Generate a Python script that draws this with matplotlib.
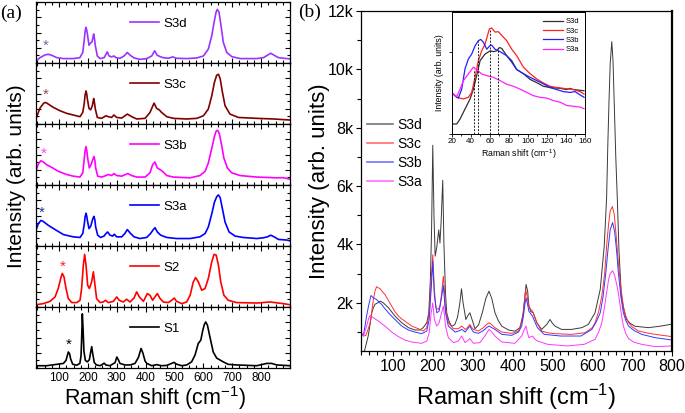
import matplotlib
matplotlib.use("Agg")
import matplotlib.pyplot as plt
from matplotlib.ticker import MultipleLocator, FixedLocator, NullFormatter

plt.rcParams['font.family'] = ['Liberation Sans', 'DejaVu Sans']
plt.rcParams['mathtext.fontset'] = 'custom'
plt.rcParams['mathtext.rm'] = 'Liberation Sans'
plt.rcParams['mathtext.it'] = 'Liberation Sans:italic'
plt.rcParams['mathtext.bf'] = 'Liberation Sans:bold'

# ---------------- panel (a) data (normalised units, each panel 0..4) -------------
names_a = ['S3d', 'S3c', 'S3b', 'S3a', 'S2', 'S1']
colors_a = ['#9933ff', '#800000', '#ff00ff', '#0000ff', '#ff0000', '#000000']
star_colors = ['#8060b0', '#a04848', '#ff40ff', '#203080', '#ff2020', '#000000']

s3d_a_x = [20, 34, 51, 63, 74, 92, 115, 149, 172, 182, 187.5, 190, 193, 196, 198, 203.6, 209, 214, 217, 219.8, 222.5, 225.6, 232.5, 242, 256, 262.5, 267, 273, 282, 290, 297, 311, 325, 336.5, 346, 360, 380, 403.5, 421, 431, 440, 452, 461, 478.5, 493.5, 507, 542, 577, 600, 617, 629, 637, 644, 648, 654, 661, 669, 681, 698, 727, 785, 808, 822, 833, 845, 860, 889, 900]
s3d_a_y = [0.13, 0.35, 0.53, 0.57, 0.51, 0.35, 0.29, 0.29, 0.35, 0.69, 1.57, 2.05, 2.34, 2.15, 1.90, 1.17, 1.30, 1.39, 1.65, 1.90, 1.60, 1.13, 0.46, 0.29, 0.35, 0.57, 0.73, 0.46, 0.40, 0.46, 0.35, 0.31, 0.46, 0.69, 0.51, 0.33, 0.24, 0.29, 0.46, 0.80, 0.51, 0.40, 0.35, 0.31, 0.40, 0.31, 0.29, 0.33, 0.46, 0.91, 1.79, 2.67, 3.34, 3.51, 3.34, 2.45, 1.35, 0.69, 0.42, 0.29, 0.29, 0.35, 0.51, 0.64, 0.51, 0.35, 0.29, 0.27]

s3c_a_x = [20, 28, 34, 40, 46, 51, 57, 63, 80, 103, 126, 149, 172.5, 182, 187.5, 190, 193.3, 196, 198, 203.6, 209.4, 215.2, 219.8, 222.5, 225.6, 232.5, 247.5, 262.5, 270.6, 282, 290, 299.5, 317, 336.5, 351.5, 369, 398, 415, 429, 438, 447, 455, 473, 496, 542, 577, 600, 617, 629, 638, 646, 652, 658, 666, 675, 692, 721, 785, 842, 900]
s3c_a_y = [0.33, 0.76, 1.05, 1.20, 1.35, 1.41, 1.38, 1.30, 1.09, 0.87, 0.70, 0.59, 0.48, 0.76, 1.41, 1.90, 2.17, 1.95, 1.63, 1.02, 0.93, 1.20, 1.67, 1.40, 0.98, 0.43, 0.37, 0.54, 0.48, 0.43, 0.59, 0.43, 0.39, 0.65, 0.48, 0.33, 0.37, 0.76, 1.37, 1.02, 0.93, 0.76, 0.48, 0.37, 0.33, 0.37, 0.54, 0.98, 1.85, 2.72, 3.20, 3.26, 2.98, 2.07, 1.20, 0.65, 0.43, 0.37, 0.33, 0.26]

s3b_a_x = [20, 28, 37, 45, 57, 74, 97, 126, 149, 172.5, 182, 187.5, 190, 193.3, 196, 199, 204.8, 210.6, 216.3, 221, 224, 226.7, 233.7, 247.5, 262.5, 270.6, 282, 290, 299.5, 317, 337.6, 351.5, 369, 398, 415, 424, 432, 440, 450, 458, 473, 496, 554, 588, 606, 617, 629, 638, 644, 649.5, 655, 663, 671, 683, 698, 727, 785, 854, 875, 889, 900]
s3b_a_y = [0.90, 1.38, 1.59, 1.51, 1.33, 1.16, 0.90, 0.69, 0.58, 0.52, 0.80, 1.76, 2.25, 2.52, 2.25, 1.76, 1.12, 1.33, 1.65, 1.87, 1.60, 1.12, 0.58, 0.52, 0.62, 0.69, 0.62, 0.75, 0.62, 0.58, 0.75, 0.62, 0.52, 0.52, 0.80, 1.33, 1.51, 1.12, 1.01, 0.90, 0.62, 0.52, 0.47, 0.62, 0.90, 1.44, 2.41, 3.16, 3.53, 3.59, 3.38, 2.62, 1.76, 1.12, 0.80, 0.62, 0.52, 0.47, 0.48, 0.43, 0.37]

s3a_a_x = [20, 28, 37, 45, 63, 86, 115, 149, 172.5, 182, 187.5, 190, 193.3, 196, 198, 203.6, 209.4, 215.2, 218, 221, 224, 226.7, 233.7, 244, 255.6, 262.5, 268.3, 276.4, 285.7, 291.4, 299.5, 317, 328, 336.5, 345.7, 359.6, 380, 403.5, 417, 426.6, 432.3, 440.4, 452, 473, 507, 554, 588, 606, 617, 629, 638, 646, 652, 658, 666, 675, 689, 710, 738, 785, 808, 822, 833, 845, 860, 889, 900]
s3a_a_y = [1.03, 1.46, 1.68, 1.61, 1.35, 1.08, 0.75, 0.60, 0.56, 0.82, 1.46, 1.90, 2.15, 1.95, 1.68, 1.14, 1.29, 1.68, 1.85, 1.94, 1.70, 1.25, 0.71, 0.56, 0.65, 0.82, 0.92, 0.71, 0.65, 0.77, 0.60, 0.60, 0.82, 1.08, 0.86, 0.60, 0.49, 0.56, 0.82, 1.08, 1.20, 0.92, 0.71, 0.56, 0.49, 0.49, 0.60, 0.82, 1.25, 2.11, 2.86, 3.23, 3.35, 3.18, 2.43, 1.57, 0.92, 0.65, 0.56, 0.49, 0.54, 0.60, 0.71, 0.60, 0.43, 0.39, 0.34]

s2_a_x = [20, 45, 68.5, 86, 97, 105.5, 111, 117, 124, 132, 144, 161, 172.5, 178, 184, 188.6, 193.3, 199, 204.8, 212.9, 218.7, 224.4, 230, 242, 253, 261, 270.6, 288, 299.5, 308.7, 322.6, 334, 345.7, 359.6, 368.8, 378, 392, 405.8, 415, 424, 432, 440.4, 450, 461, 478.5, 490, 499, 507, 525, 542, 554, 565, 573, 582.5, 594, 605.6, 617, 629, 637, 644, 652, 660, 671, 686, 715, 785, 831, 877, 900]
s2_a_y = [0.15, 0.22, 0.37, 0.66, 1.21, 1.87, 2.20, 1.98, 1.21, 0.55, 0.29, 0.29, 0.44, 1.21, 2.75, 3.45, 2.75, 1.43, 1.21, 1.65, 2.31, 1.43, 0.55, 0.29, 0.33, 0.44, 0.29, 0.37, 0.66, 0.44, 0.33, 0.51, 0.33, 0.59, 0.99, 0.66, 0.37, 0.88, 0.77, 0.44, 0.66, 0.88, 0.55, 0.33, 0.29, 0.44, 0.59, 0.37, 0.22, 0.33, 0.77, 1.65, 1.93, 1.65, 1.10, 1.21, 1.87, 2.97, 3.45, 3.41, 2.75, 1.65, 0.77, 0.44, 0.29, 0.26, 0.33, 0.22, 0.15]

s1_a_x = [20, 57, 92, 115, 124, 129, 132, 136, 140, 147, 161, 172, 176, 178, 180.5, 183, 186, 191, 198, 205, 209, 213, 216, 222, 230, 242, 251, 256, 262, 276, 294, 300, 305, 311, 328, 346, 363, 375, 384, 390, 398, 404, 421, 438, 455, 473, 490, 498, 507, 525, 542, 559, 571, 582, 591, 597, 603, 608, 614, 623, 634, 646, 658, 669, 686, 715, 785, 819, 837, 854, 900]
s1_a_y = [0.15, 0.15, 0.24, 0.30, 0.50, 0.85, 1.05, 0.95, 0.60, 0.25, 0.18, 0.30, 0.80, 1.80, 3.55, 2.60, 1.10, 0.50, 0.40, 0.55, 1.00, 1.40, 1.00, 0.35, 0.20, 0.15, 0.25, 0.32, 0.20, 0.15, 0.35, 0.72, 0.55, 0.30, 0.20, 0.20, 0.30, 0.70, 1.28, 1.00, 0.45, 0.30, 0.15, 0.22, 0.15, 0.17, 0.30, 0.37, 0.25, 0.15, 0.20, 0.40, 0.85, 1.60, 1.83, 2.40, 2.85, 3.02, 2.80, 2.00, 1.05, 0.65, 0.52, 0.40, 0.24, 0.20, 0.15, 0.30, 0.30, 0.20, 0.15]

spectra_a_x = [s3d_a_x, s3c_a_x, s3b_a_x, s3a_a_x, s2_a_x, s1_a_x]
spectra_a_y = [s3d_a_y, s3c_a_y, s3b_a_y, s3a_a_y, s2_a_y, s1_a_y]
star_x = [54.6, 54.6, 45.4, 39.6, 111.2, 132.0]
star_y = [1.13, 1.89, 2.02, 2.15, 2.64, 1.50]
xticks_a = [100, 200, 300, 400, 500, 600, 700, 800]

# ---------------- panel (b) data (counts) ----------------
names_b = ['S3d', 'S3c', 'S3b', 'S3a']
colors_b = ['#3a3a3a', '#ff3030', '#3535ff', '#ff35ff']

s3d_b_x = [20, 26, 30, 34, 38, 42, 47, 51, 55, 62, 68, 76, 89, 105, 122, 139, 155, 168, 176, 185, 190, 194, 197, 200, 203, 206, 210, 215, 218, 221, 225, 228, 232, 235, 240, 247, 255, 262, 268, 272, 276, 283, 288, 293, 298, 306, 315, 325, 333, 341, 348, 356, 364, 373, 390, 406, 419, 427, 431, 434, 438, 441, 446, 452, 456, 461, 473, 486, 494, 500, 507, 523, 548, 574, 590, 607, 620, 630, 636, 639, 642, 645, 649, 652, 655, 659, 663, 667, 673, 680, 686, 695, 707, 720, 741, 770, 800]
s3d_b_y = [250, 250, 420, 640, 860, 1200, 1660, 1830, 1950, 2000, 2060, 2000, 1830, 1550, 1320, 1150, 1070, 1070, 1150, 1320, 1660, 2800, 4500, 7400, 5000, 3600, 3900, 4500, 4050, 4800, 6200, 4000, 2300, 1660, 1400, 1200, 1250, 1500, 2000, 2480, 2000, 1430, 1560, 1660, 1450, 1110, 1250, 1700, 2150, 2400, 2150, 1660, 1400, 1200, 1070, 1030, 1150, 1660, 2200, 2630, 2400, 1890, 1700, 1660, 1500, 1320, 1090, 1260, 1430, 1300, 1200, 1090, 1090, 1150, 1260, 1660, 2460, 3940, 5600, 7400, 8900, 10200, 10950, 10300, 8900, 7000, 5500, 3800, 2230, 1700, 1430, 1300, 1200, 1180, 1150, 1200, 1270]

s3c_b_x = [20, 26, 32, 38, 43, 47, 51, 55, 59, 63, 68, 74, 80, 88, 97, 105, 114, 122, 130, 147, 164, 176, 185, 191, 196, 200, 204, 208, 214, 218, 222, 226.5, 230, 232, 239, 252, 264, 268, 272.5, 277, 281, 287, 293, 298, 302, 314, 327, 334, 341, 348, 356, 373, 398, 415, 425, 430, 433, 437, 440, 445, 450, 455, 461, 473, 490, 507, 548, 582, 600, 607, 616, 624, 631, 636, 641, 645, 650.5, 655, 660, 665.5, 672, 678, 684, 691, 700, 716, 740, 758, 780, 800]
s3c_b_y = [977, 863, 880, 1100, 1320, 1700, 2115, 2400, 2550, 2520, 2480, 2380, 2286, 2100, 1888, 1700, 1546, 1450, 1376, 1205, 1114, 1034, 1148, 1660, 2798, 3650, 2457, 1831, 1774, 1888, 2300, 2912, 2300, 1774, 1319, 1114, 1114, 1150, 1205, 1150, 1091, 1150, 1262, 1150, 1091, 1034, 1148, 1250, 1319, 1250, 1148, 1000, 954, 1034, 1432, 2100, 2457, 2200, 1944, 1780, 1717, 1550, 1319, 1034, 970, 943, 920, 977, 1150, 1319, 1700, 2229, 3000, 3936, 4700, 5150, 5300, 5050, 4300, 3367, 2500, 1888, 1550, 1319, 1180, 1034, 960, 920, 880, 841]

s3b_b_x = [20, 26, 30, 34, 39, 45, 51, 59, 65, 72, 80, 89, 97, 105, 122, 139, 155, 172, 185, 191, 196, 200, 204, 210, 216, 221, 226.5, 230, 232, 239, 256, 268, 272.5, 277, 281, 287, 293, 298, 302, 314, 327, 335, 341, 348, 356, 373, 398, 415, 423, 428, 431, 434, 437, 441, 446, 450, 456, 462.5, 479.5, 521, 571.5, 599, 610, 620, 627, 634, 640, 645, 651, 656, 661, 665.5, 672, 678, 684, 691, 705, 724, 758, 800]
s3b_b_y = [977, 886, 1200, 1546, 1900, 2252, 2172, 2115, 2030, 1944, 1800, 1660, 1540, 1432, 1205, 1068, 1000, 943, 1034, 1432, 2457, 3424, 2229, 1660, 1717, 2100, 2593, 2000, 1660, 1205, 1000, 1050, 1091, 1050, 1000, 1100, 1205, 1080, 1000, 954, 1050, 1150, 1205, 1150, 1091, 920, 886, 1000, 1205, 1600, 1950, 2172, 2000, 1717, 1620, 1546, 1350, 1148, 920, 863, 863, 1091, 1350, 1660, 2200, 3026, 3900, 4500, 4750, 4450, 3800, 3026, 2200, 1660, 1400, 1205, 1050, 920, 806, 727]

s3a_b_x = [20, 26, 34, 40, 43, 51, 63.5, 80, 97, 114, 130, 147, 172, 185, 191, 196, 200, 204, 210, 216, 221, 226.5, 230, 232, 239, 252, 264, 272.5, 281, 287, 293, 302, 318, 330, 341, 348, 356, 373, 406, 423, 430, 434, 437, 441, 446, 450, 456, 462.5, 488, 538, 580, 607, 616, 624, 630, 636, 641, 645, 651, 656, 661, 665.5, 672, 678, 684, 691, 705, 724, 758, 800]
s3a_b_y = [977, 863, 1205, 1500, 1569, 1489, 1376, 1205, 1000, 841, 727, 659, 613, 693, 977, 1660, 2000, 1432, 1205, 1319, 1600, 1888, 1500, 1205, 807, 636, 693, 863, 636, 700, 773, 613, 636, 850, 1091, 1000, 863, 659, 613, 863, 1100, 1205, 1000, 807, 840, 863, 760, 693, 579, 522, 579, 750, 1000, 1319, 1800, 2343, 2800, 3000, 3100, 2950, 2650, 2343, 1700, 1205, 950, 773, 650, 579, 499, 522]

spectra_b_x = [s3d_b_x, s3c_b_x, s3b_b_x, s3a_b_x]
spectra_b_y = [s3d_b_y, s3c_b_y, s3b_b_y, s3a_b_y]
yticks_b = [2000, 4000, 6000, 8000, 10000, 12000]
yticklabels_b = ['2k', '4k', '6k', '8k', '10k', '12k']
xticks_b = [100, 200, 300, 400, 500, 600, 700, 800]

# ---------------- inset data (arb. units) ----------------
colors_in = ['#303030', '#ff2020', '#2020ff', '#ff20ff']
s3d_in_x = [20, 25.3, 28.8, 34, 39.3, 42.8, 46.3, 49.8, 55, 60.3, 63.8, 67.3, 70, 72.5, 77.8, 83, 88.3, 95.3, 102.3, 109.3, 116.3, 123.3, 133.8, 140.8, 144, 147.8, 152, 159]
s3d_in_y = [0.123, 0.123, 0.184, 0.307, 0.43, 0.55, 0.72, 0.90, 0.98, 1.02, 1.01, 1.02, 1.06, 1.05, 0.96, 0.90, 0.79, 0.74, 0.67, 0.63, 0.585, 0.57, 0.56, 0.545, 0.56, 0.545, 0.54, 0.53]
s3c_in_x = [20, 25.3, 32.3, 37.5, 41, 44.5, 48, 51.5, 55, 59.6, 62, 65.5, 69, 72.5, 77.8, 83, 88.3, 95.3, 102.3, 109.3, 116.3, 123.3, 130.3, 137.3, 147.8, 154.8, 159]
s3c_in_y = [0.503, 0.45, 0.43, 0.45, 0.51, 0.695, 0.90, 1.02, 1.10, 1.29, 1.30, 1.25, 1.255, 1.21, 1.145, 1.04, 0.96, 0.82, 0.74, 0.675, 0.625, 0.585, 0.57, 0.56, 0.545, 0.52, 0.49]
s3b_in_x = [20, 23.5, 27, 30.5, 34, 37.5, 41, 44.5, 48, 50.5, 53.3, 56.8, 60.3, 62, 65.5, 70.8, 77.8, 83, 88.3, 95.3, 102.3, 109.3, 116.3, 123.3, 130.3, 137.3, 144.3, 149.5, 154.8, 159]
s3b_in_y = [0.51, 0.47, 0.44, 0.55, 0.80, 0.92, 0.98, 1.08, 1.145, 1.16, 1.125, 1.04, 1.085, 1.09, 1.04, 1.01, 0.96, 0.88, 0.79, 0.74, 0.695, 0.655, 0.615, 0.57, 0.545, 0.52, 0.51, 0.52, 0.48, 0.45]
s3a_in_x = [20, 25.3, 28.8, 32.3, 37.5, 42.8, 46.3, 51.5, 56.8, 63.8, 70.8, 77.8, 84.8, 91.8, 98.8, 105.8, 112.8, 119.8, 126.8, 133.8, 140.8, 147.8, 154.8, 159]
s3a_in_y = [0.503, 0.46, 0.55, 0.655, 0.736, 0.82, 0.79, 0.736, 0.716, 0.695, 0.655, 0.61, 0.585, 0.55, 0.51, 0.47, 0.45, 0.44, 0.41, 0.39, 0.35, 0.34, 0.33, 0.31]
spectra_in_x = [s3d_in_x, s3c_in_x, s3b_in_x, s3a_in_x]
spectra_in_y = [s3d_in_y, s3c_in_y, s3b_in_y, s3a_in_y]
peak_x = [43, 48, 60, 69]
peak_y = [0.80, 1.145, 1.29, 1.055]
xticks_in = [20, 40, 60, 80, 100, 120, 140, 160]

# ======================= figure =======================
fig = plt.figure(figsize=(6.85, 4.13), dpi=100)
W, H = 685.0, 413.0

# ---- panel (a) ----
a_left, a_right, a_top, a_bot = 36, 290, 2, 368
ph = (a_bot - a_top) / 6.0
axes_a = []
for i in range(6):
    top = a_top + i * ph
    ax = fig.add_axes([a_left / W, 1 - (top + ph) / H, (a_right - a_left) / W, ph / H])
    axes_a.append(ax)
    ln, = ax.plot(spectra_a_x[i], spectra_a_y[i], color=colors_a[i], lw=1.2, label=names_a[i])
    ax.set_xlim(20, 900)
    ax.set_ylim(0, 4)
    ax.yaxis.set_major_locator(FixedLocator([1, 2, 3]))
    ax.yaxis.set_minor_locator(MultipleLocator(0.5))
    ax.xaxis.set_major_locator(FixedLocator(xticks_a))
    ax.xaxis.set_minor_locator(MultipleLocator(25))
    ax.tick_params(which='both', direction='in', top=True, right=True, left=True, bottom=True, width=0.8)
    ax.tick_params(which='major', length=3.5)
    ax.tick_params(which='minor', length=2)
    ax.set_yticklabels([])
    if i < 5:
        ax.set_xticklabels([])
    else:
        ax.tick_params(axis='x', labelsize=8.5, pad=3)
    for s in ax.spines.values():
        s.set_linewidth(0.9)
    ax.text(star_x[i], star_y[i], '*', color=star_colors[i], fontsize=11, ha='center', va='center')
    ax.legend(handles=[ln], loc='center left', bbox_to_anchor=(0.37, 0.64), frameon=False,
              fontsize=9.5, handlelength=2.2, handletextpad=0.35, borderpad=0, borderaxespad=0)

fig.text(0.0, 1 - 13 / H, '(a)', family='Liberation Serif', fontsize=14, ha='left', va='center')
fig.text(16.5 / W, 1 - 176 / H, 'Intensity (arb. units)', rotation=90, fontsize=15, ha='center', va='center')
fig.text(155 / W, 1 - 405 / H, r'Raman shift (cm$^{-1}$)', fontsize=15.5, ha='center', va='baseline')

# ---- panel (b) ----
b_left, b_right, b_top, b_bot = 361, 672, 11, 351
axb = fig.add_axes([b_left / W, 1 - b_bot / H, (b_right - b_left) / W, (b_bot - b_top) / H])
lines_b = []
for i in range(4):
    ln, = axb.plot(spectra_b_x[i], spectra_b_y[i], color=colors_b[i], lw=0.7, label=names_b[i])
    lines_b.append(ln)
axb.set_xlim(20, 800)
axb.set_ylim(350, 12000)
axb.xaxis.set_major_locator(FixedLocator(xticks_b))
axb.xaxis.set_minor_locator(MultipleLocator(20))
axb.yaxis.set_major_locator(FixedLocator(yticks_b))
axb.set_yticklabels(yticklabels_b)
axb.yaxis.set_minor_locator(MultipleLocator(1000))
axb.tick_params(which='both', direction='out', top=False, right=False, labelsize=11.5, width=0.8)
axb.tick_params(which='major', length=3.5, pad=2)
axb.tick_params(which='minor', length=3)
for s in axb.spines.values():
    s.set_linewidth(0.9)
axb.spines['right'].set_linewidth(1.6)
axb.legend(handles=lines_b, loc='center left', bbox_to_anchor=(0.019, 0.581), frameon=False,
           fontsize=10, labelspacing=0.37, handlelength=1.9, handletextpad=0.3, borderpad=0, borderaxespad=0)
for lh in axb.get_legend().get_lines():
    lh.set_linewidth(1.2)
    lh.set_alpha(0.7)

fig.text(298 / W, 1 - 12.5 / H, '(b)', family='Liberation Serif', fontsize=14, ha='left', va='center')
fig.text(320 / W, 1 - 181 / H, 'Intensity (arb. units)', rotation=90, fontsize=16, ha='center', va='center')
fig.text(516.5 / W, 1 - 405 / H, r'Raman shift (cm$^{-1}$)', fontsize=17, ha='center', va='baseline')

# ---- inset ----
i_left, i_right, i_top, i_bot = 451.7, 585, 11.7, 134
axi = fig.add_axes([i_left / W, 1 - i_bot / H, (i_right - i_left) / W, (i_bot - i_top) / H])
lines_in = []
for i in range(4):
    ln, = axi.plot(spectra_in_x[i], spectra_in_y[i], color=colors_in[i], lw=0.9, label=names_b[i])
    lines_in.append(ln)
for px, py in zip(peak_x, peak_y):
    axi.plot([px, px], [0, py], color='#202020', lw=0.7, ls=(0, (2, 1.5)))
axi.set_xlim(20, 160)
axi.set_ylim(0, 1.5)
axi.xaxis.set_major_locator(FixedLocator(xticks_in))
axi.xaxis.set_minor_locator(MultipleLocator(10))
axi.yaxis.set_major_locator(FixedLocator([0, 1]))
axi.yaxis.set_major_formatter(NullFormatter())
axi.tick_params(which='both', direction='out', labelsize=5.8, width=0.6, pad=1)
axi.tick_params(which='major', length=2.2)
axi.tick_params(which='minor', length=1.3)
for s in axi.spines.values():
    s.set_linewidth(0.7)
axi.set_xlabel(r'Raman shift (cm$^{-1}$)', fontsize=6.3, labelpad=1)
axi.set_ylabel('Intensity (arb. units)', fontsize=6.3, labelpad=2)
axi.legend(handles=lines_in, loc='center left', bbox_to_anchor=(0.685, 0.805), frameon=False,
           fontsize=5.5, labelspacing=0.26, handlelength=2.6, handletextpad=0.4, borderpad=0, borderaxespad=0)

fig.savefig('out.png', dpi=100)
